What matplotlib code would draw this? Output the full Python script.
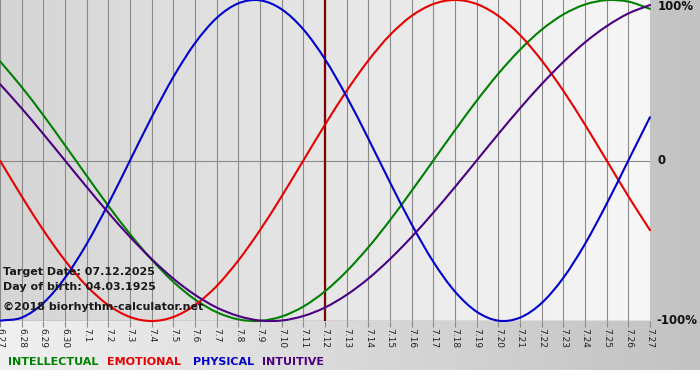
import numpy as np
import matplotlib
matplotlib.use("Agg")
import matplotlib.pyplot as plt
from matplotlib.colors import LinearSegmentedColormap
from matplotlib.path import Path
from matplotlib.patches import PathPatch

# ---- data ----
days = ["6.27", "6.28", "6.29", "6.30", "7.1", "7.2", "7.3", "7.4", "7.5", "7.6",
        "7.7", "7.8", "7.9", "7.10", "7.11", "7.12", "7.13", "7.14", "7.15", "7.16",
        "7.17", "7.18", "7.19", "7.20", "7.21", "7.22", "7.23", "7.24", "7.25", "7.26", "7.27"]

physical = [-0.998, -0.979, -0.888, -0.731, -0.520, -0.270, 0.000, 0.270, 0.520, 0.731,
            0.888, 0.979, 0.998, 0.942, 0.817, 0.631, 0.398, 0.136, -0.136, -0.398,
            -0.631, -0.817, -0.942, -0.998, -0.979, -0.888, -0.731, -0.520, -0.270, 0.000, 0.270]
emotional = [0.000, -0.223, -0.434, -0.623, -0.782, -0.901, -0.975, -1.000, -0.975, -0.901,
             -0.782, -0.623, -0.434, -0.223, 0.000, 0.223, 0.434, 0.623, 0.782, 0.901,
             0.975, 1.000, 0.975, 0.901, 0.782, 0.623, 0.434, 0.223, 0.000, -0.223, -0.434]
intellectual = [0.618, 0.458, 0.282, 0.095, -0.095, -0.282, -0.458, -0.618, -0.756, -0.866,
                -0.945, -0.990, -0.999, -0.972, -0.910, -0.815, -0.690, -0.541, -0.372, -0.189,
                0.000, 0.189, 0.372, 0.541, 0.690, 0.815, 0.910, 0.972, 0.999, 0.990, 0.945]
intuitive = [0.476, 0.325, 0.165, 0.000, -0.165, -0.325, -0.476, -0.614, -0.736, -0.837,
             -0.916, -0.969, -0.997, -0.997, -0.969, -0.916, -0.837, -0.736, -0.614, -0.476,
             -0.325, -0.165, 0.000, 0.165, 0.325, 0.476, 0.614, 0.736, 0.837, 0.916, 0.969]
target_index = 15  # 7.12

series_names = ["INTELLECTUAL", "EMOTIONAL", "PHYSICAL", "INTUITIVE"]
series_colors = ["#008000", "#e80000", "#0000cc", "#4b0082"]
series_values = [intellectual, emotional, physical, intuitive]


def smooth_path(xs, ys):
    """Catmull-Rom curve through the data points, drawn as cubic Bezier segments."""
    p = np.column_stack([xs, ys]).astype(float)
    ext = np.vstack([2 * p[0] - p[1], p, 2 * p[-1] - p[-2]])
    verts = [p[0]]
    codes = [Path.MOVETO]
    for i in range(len(p) - 1):
        a, b, c, d = ext[i], ext[i + 1], ext[i + 2], ext[i + 3]
        verts += [b + (c - a) / 6.0, c - (d - b) / 6.0, c]
        codes += [Path.CURVE4] * 3
    return Path(np.array(verts), codes)


W, H = 700, 380
fig = plt.figure(figsize=(W / 100, H / 100), dpi=100)

# figure background gradient
bg = fig.add_axes([0, 0, 1, 1], zorder=-10)
bg.set_axis_off()
grad = np.linspace(0, 1, 256)[None, :]
bg_cmap = LinearSegmentedColormap.from_list("bg", ["#f0f0f0", "#c2c2c2"])
bg.imshow(np.repeat(grad, 2, axis=0), cmap=bg_cmap, aspect="auto",
          extent=[0, W, 10, H], origin="lower")
bg.add_patch(plt.Rectangle((0, 0), W, 10, color="white", lw=0))
bg.set_xlim(0, W)
bg.set_ylim(0, H)

# main plot
x0, x1 = 0, 650
ytop, ybot = 0, 321
ax = fig.add_axes([x0 / W, (H - ybot) / H, (x1 - x0) / W, (ybot - ytop) / H])
n = len(days)
x = np.arange(n)
ax.set_xlim(0, n - 1)
ax.set_ylim(-1, 1)

pl_cmap = LinearSegmentedColormap.from_list("pl", ["#d5d5d5", "#f7f7f7"])
ax.imshow(np.repeat(grad, 2, axis=0), cmap=pl_cmap, aspect="auto",
          extent=[0, n - 1, -1, 1], zorder=0)

for xi in x:
    ax.axvline(xi, color="#8a8a8a", lw=0.8, zorder=1)
ax.axhline(0, color="#8a8a8a", lw=0.8, zorder=1)
ax.axhline(-1, color="#8a8a8a", lw=1.0, zorder=1)

ax.axvline(target_index, color="#800000", lw=1.6, zorder=2)

for vals, col in zip(series_values, series_colors):
    patch = PathPatch(smooth_path(x, vals), facecolor="none", edgecolor=col,
                      lw=1.5, zorder=3, clip_on=False, capstyle="round")
    ax.add_patch(patch)

for s in ax.spines.values():
    s.set_visible(False)
ax.set_yticks([])
ax.set_xticks(x)
ax.set_xticklabels(days, rotation=-90, fontsize=6.5, color="#222222")
ax.tick_params(axis="x", length=4, width=0.8, color="#8a8a8a", pad=1)

# info texts
info_kw = dict(fontsize=8, fontweight="bold", color="#1a1a1a", va="center", ha="left")
fig.text(3 / W, 1 - 272 / H, "Target Date: 07.12.2025", **info_kw)
fig.text(3 / W, 1 - 287 / H, "Day of birth: 04.03.1925", **info_kw)
fig.text(3 / W, 1 - 307 / H, "\u00a92018 biorhythm-calculator.net", **info_kw)

# right axis labels
rk = dict(fontsize=8.5, fontweight="bold", color="#111111", va="center", ha="left")
fig.text(658 / W, 1 - 7 / H, "100%", **rk)
fig.text(658 / W, 1 - 161 / H, "0", **rk)
fig.text(656 / W, 1 - 321 / H, "-100%", **rk)

# legend
leg_x = [8, 107, 193, 262]
for name, col, lx in zip(series_names, series_colors, leg_x):
    fig.text(lx / W, 1 - 362 / H, name, fontsize=8, fontweight="bold", color=col,
             va="center", ha="left")

fig.savefig("out.png", dpi=100)
